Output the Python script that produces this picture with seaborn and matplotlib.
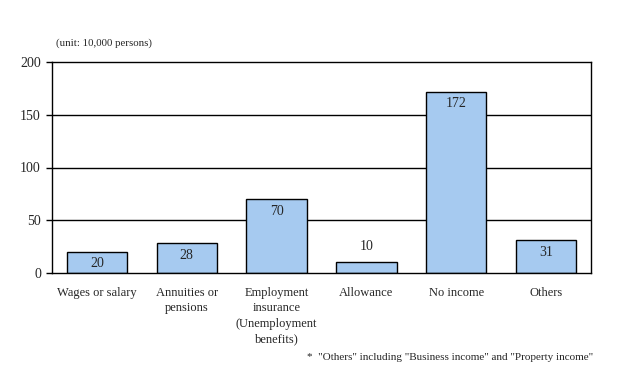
import matplotlib
matplotlib.use("Agg")
import matplotlib.pyplot as plt
import seaborn as sns
import pandas as pd

categories = [
    "Wages or salary",
    "Annuities or\npensions",
    "Employment\ninsurance\n(Unemployment\nbenefits)",
    "Allowance",
    "No income",
    "Others",
]
values = [20, 28, 70, 10, 172, 31]
yticks = [0, 50, 100, 150, 200]

sns.set_style("white")
plt.rcParams["font.family"] = ["Liberation Serif", "DejaVu Serif"]

df = pd.DataFrame({"cat": categories, "val": values})

fig = plt.figure(figsize=(6.17, 3.74), dpi=100)
ax = fig.add_axes([52 / 617, 1 - 273 / 374, (591 - 52) / 617, (273 - 62) / 374])

# grid lines behind the bars
for y in yticks[1:-1]:
    ax.axhline(y, color="black", lw=1.0, zorder=0)

sns.barplot(data=df, x="cat", y="val", color="#A6CAF0", edgecolor="black",
            linewidth=1.0, width=0.67, saturation=1, ax=ax, zorder=2)

ax.set_ylim(0, 200)
ax.set_xlim(-0.5, len(categories) - 0.5)
ax.set_yticks(yticks)
ax.set_yticklabels([str(t) for t in yticks], fontsize=10)
ax.set_xticks(range(len(categories)))
ax.set_xticklabels(categories, fontsize=9, linespacing=1.4, va="top")
ax.set_xlabel("")
ax.set_ylabel("")

# small inward ticks at the category boundaries
ax.set_xticks([i + 0.5 for i in range(len(categories) - 1)], minor=True)
ax.tick_params(axis="x", which="major", length=0, pad=10)
ax.tick_params(axis="x", which="minor", direction="in", length=4, width=1, color="black")
ax.tick_params(axis="y", length=4, width=1, color="black", direction="out", pad=4, left=True)

for s in ax.spines.values():
    s.set_color("black")
    s.set_linewidth(1.0)

for i, v in enumerate(values):
    if v < 15:
        ax.annotate(str(v), (i, v), xytext=(0, 7), textcoords="offset points",
                    ha="center", va="bottom", fontsize=10, zorder=3)
    else:
        ax.annotate(str(v), (i, v), xytext=(0, -4), textcoords="offset points",
                    ha="center", va="top", fontsize=10, zorder=3)

fig.text(104 / 617, 1 - 43 / 374, "(unit: 10,000 persons)", ha="center", va="center", fontsize=7.8)
fig.text(593 / 617, 1 - 357 / 374,
         '*  "Others" including "Business income" and "Property income"',
         ha="right", va="center", fontsize=8)

fig.savefig("out.png", dpi=100)
